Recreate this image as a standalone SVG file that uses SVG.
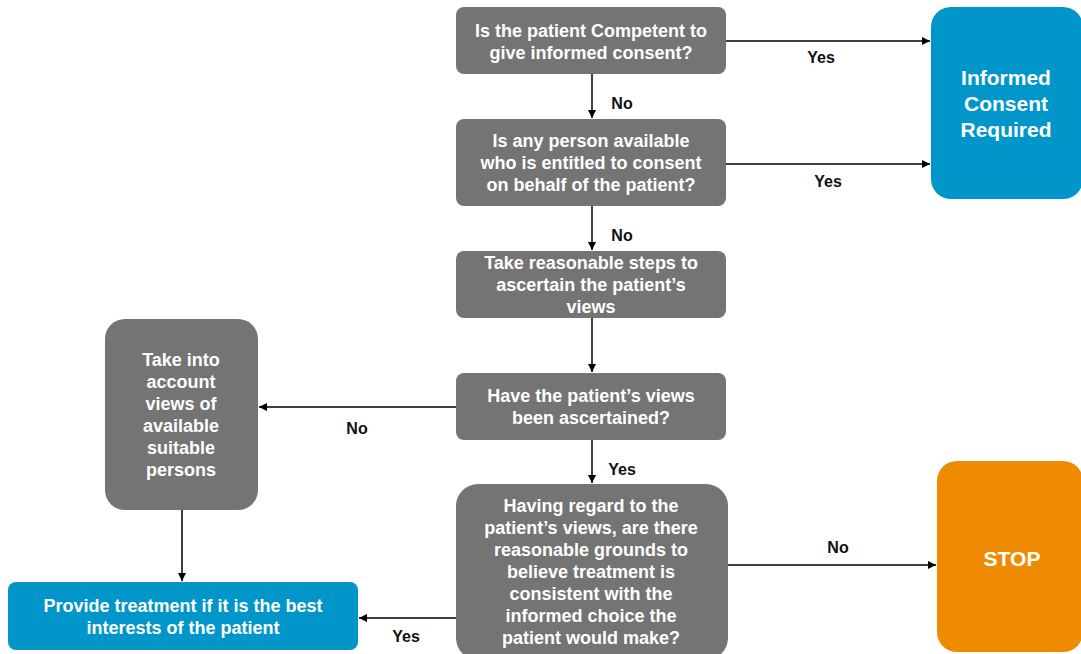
<svg xmlns="http://www.w3.org/2000/svg" width="1081" height="654" viewBox="0 0 1081 654">
<style>
.g{fill:#747474}
.b{fill:#0096c9}
.o{fill:#ee8b00}
.t{font-family:"Liberation Sans",Arial,sans-serif;font-weight:bold;font-size:18px;fill:#fff;text-anchor:middle}
.big{font-family:"Liberation Sans",Arial,sans-serif;font-weight:bold;font-size:21px;fill:#fff;text-anchor:middle}
.l{font-family:"Liberation Sans",Arial,sans-serif;font-weight:bold;font-size:16px;fill:#111;text-anchor:middle}
.c{stroke:#000;stroke-width:1.5;fill:none;marker-end:url(#a)}
</style>
<defs>
<marker id="a" viewBox="0 0 10 10" refX="10" refY="5" markerWidth="8" markerHeight="8" markerUnits="userSpaceOnUse" orient="auto">
<path d="M0,0L10,5L0,10z" fill="#000"/>
</marker>
</defs>
<rect width="1081" height="654" fill="#fff"/>
<g id="connectors">
<path class="c" d="M726,41H930"/>
<path class="c" d="M726,164H930"/>
<path class="c" d="M592,74V118"/>
<path class="c" d="M592,206V250"/>
<path class="c" d="M592,318V372"/>
<path class="c" d="M456,407H259"/>
<path class="c" d="M592,440V483"/>
<path class="c" d="M728,565H936"/>
<path class="c" d="M456,618H359"/>
<path class="c" d="M182,510V581"/>
<text class="l" x="821" y="63">Yes</text>
<text class="l" x="828" y="187">Yes</text>
<text class="l" x="622" y="109">No</text>
<text class="l" x="622" y="241">No</text>
<text class="l" x="357" y="434">No</text>
<text class="l" x="622" y="475">Yes</text>
<text class="l" x="838" y="553">No</text>
<text class="l" x="406" y="642">Yes</text>
</g>
<g id="n1">
<rect class="g" x="456" y="7" width="270" height="67" rx="8"/>
<text class="t" x="591" y="37">Is the patient Competent to</text>
<text class="t" x="591" y="59">give informed consent?</text>
</g>
<g id="n2">
<rect class="g" x="456" y="119" width="270" height="87" rx="8"/>
<text class="t" x="591" y="147">Is any person available</text>
<text class="t" x="591" y="169">who is entitled to consent</text>
<text class="t" x="591" y="191">on behalf of the patient?</text>
</g>
<g id="n3">
<rect class="g" x="456" y="251" width="270" height="67" rx="8"/>
<text class="t" x="591" y="269">Take reasonable steps to</text>
<text class="t" x="591" y="291">ascertain the patient’s</text>
<text class="t" x="591" y="313">views</text>
</g>
<g id="n4">
<rect class="g" x="456" y="373" width="270" height="67" rx="8"/>
<text class="t" x="591" y="402">Have the patient’s views</text>
<text class="t" x="591" y="424">been ascertained?</text>
</g>
<g id="n5">
<rect class="g" x="456" y="484" width="272" height="176" rx="22"/>
<text class="t" x="591" y="512">Having regard to the</text>
<text class="t" x="591" y="534">patient’s views, are there</text>
<text class="t" x="591" y="556">reasonable grounds  to</text>
<text class="t" x="591" y="578">believe treatment is</text>
<text class="t" x="591" y="600">consistent  with the</text>
<text class="t" x="591" y="622">informed choice the</text>
<text class="t" x="591" y="644">patient would make?</text>
</g>
<g id="consent">
<rect class="b" x="931" y="7" width="152" height="192" rx="20"/>
<text class="big" x="1006" y="85">Informed</text>
<text class="big" x="1006" y="111">Consent</text>
<text class="big" x="1006" y="137">Required</text>
</g>
<g id="stop">
<rect class="o" x="937" y="461" width="146" height="191" rx="20"/>
<text class="big" x="1012" y="566">STOP</text>
</g>
<g id="others">
<rect class="g" x="105" y="319" width="153" height="191" rx="20"/>
<text class="t" x="181" y="366">Take into</text>
<text class="t" x="181" y="388">account</text>
<text class="t" x="181" y="410">views of</text>
<text class="t" x="181" y="432">available</text>
<text class="t" x="181" y="454">suitable</text>
<text class="t" x="181" y="476">persons</text>
</g>
<g id="provide">
<rect class="b" x="8" y="582" width="350" height="68" rx="8"/>
<text class="t" x="183" y="612">Provide treatment if it is the best</text>
<text class="t" x="183" y="634">interests  of the patient</text>
</g>
</svg>
